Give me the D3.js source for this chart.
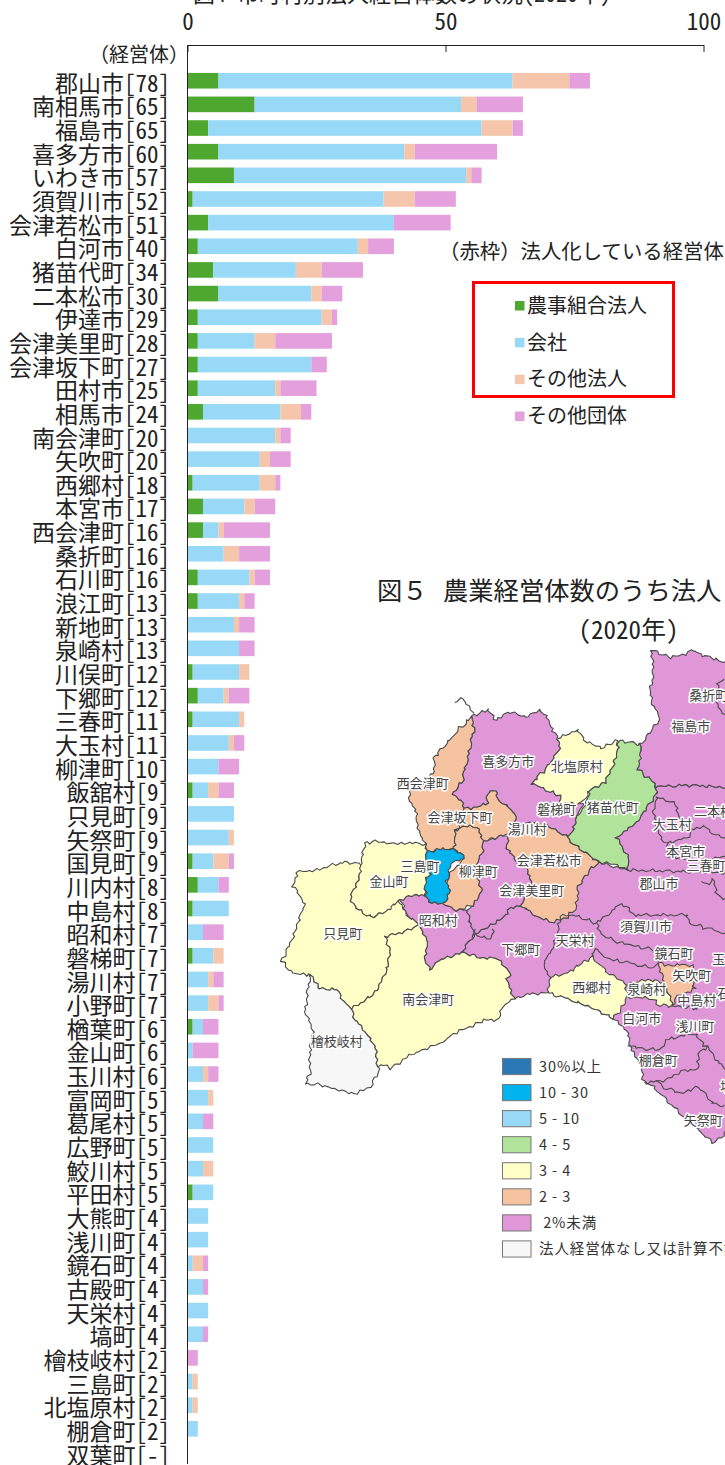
<!DOCTYPE html>
<html lang="ja">
<head>
<meta charset="UTF-8">
<title>法人経営体数</title>
<script src="https://cdn.jsdelivr.net/npm/d3@7"></script>
<style>
html, body { margin: 0; padding: 0; background: #fff; overflow: hidden; }
svg { display: block; }
text { font-family: "Noto Sans CJK JP", sans-serif; }
</style>
</head>
<body>
<script>
// bar chart data
var municipalities = ["郡山市","南相馬市","福島市","喜多方市","いわき市","須賀川市","会津若松市","白河市","猪苗代町","二本松市","伊達市","会津美里町","会津坂下町","田村市","相馬市","南会津町","矢吹町","西郷村","本宮市","西会津町","桑折町","石川町","浪江町","新地町","泉崎村","川俣町","下郷町","三春町","大玉村","柳津町","飯舘村","只見町","矢祭町","国見町","川内村","中島村","昭和村","磐梯町","湯川村","小野町","楢葉町","金山町","玉川村","富岡町","葛尾村","広野町","鮫川村","平田村","大熊町","浅川町","鏡石町","古殿町","天栄村","塙町","檜枝岐村","三島町","北塩原村","棚倉町","双葉町"];
var totals = ["78","65","65","60","57","52","51","40","34","30","29","28","27","25","24","20","20","18","17","16","16","16","13","13","13","12","12","11","11","10","9","9","9","9","8","8","7","7","7","7","6","6","6","5","5","5","5","5","4","4","4","4","4","4","2","2","2","2","-"];
var nojiKumiai = [6,13,4,6,9,1,4,2,5,6,2,2,2,2,3,0,0,1,3,3,0,2,2,0,0,1,2,1,0,0,1,0,0,1,2,1,0,1,0,0,1,0,0,0,0,0,0,1,0,0,0,0,0,0,0,0,0,0,0];
var kaisha     = [57,40,53,36,45,37,36,31,16,18,24,11,22,15,15,17,14,13,8,3,7,10,8,9,10,9,5,9,8,6,3,9,8,4,4,7,3,4,4,4,2,1,3,4,3,5,3,4,4,4,1,3,4,3,0,1,1,2,0];
var sonotaHojin= [11,3,6,2,1,6,0,2,5,2,2,4,0,1,4,1,2,3,2,1,3,1,1,1,0,2,1,1,1,0,2,0,1,3,0,0,0,2,1,2,0,0,1,1,0,0,2,0,0,0,2,0,0,0,0,1,1,0,0];
var sonotaDantai=[4,9,2,16,2,8,11,5,8,4,1,11,3,7,2,2,4,1,4,9,6,3,2,3,3,0,4,0,2,4,3,0,0,1,2,0,4,0,2,1,3,5,2,0,2,0,0,0,0,0,1,1,0,1,2,0,0,0,0];
var seriesNames = ["農事組合法人","会社","その他法人","その他団体"];
var seriesColors = ["#4EA72E","#97D9F7","#F5C6AB","#E3A0DC"];
var xTicks = [0,50,100];

// map classes
var classBreaks = [2,3,4,5,10,30];
var classColors = ["#E097D8","#F6C3A1","#FFFFC8","#B1E39B","#97D9F7","#00B4F0","#2B78B7"];
var classLabels = ["30%以上","10 - 30","5 - 10","4 - 5","3 - 4","2 - 3"," 2%未満","法人経営体なし又は計算不能"];
var legendColors = ["#2B78B7","#00B4F0","#97D9F7","#B1E39B","#FFFFC8","#F6C3A1","#E097D8","#F7F7F7"];

// share of corporate farms per region (null = none), outlines traced at 3x from origin 270,640
var regionRates = {
  base:1.5, nihonmatsu:1.5, fukushima:1.5, kitakata:1.5, misato:1.5, showa:1.5,
  nishiaizu:2.5, bange:2.5, wakamatsu:2.5, yanaizu:2.5, yabuki:2.5,
  mishima:15, kitashiobara:3.5, inawashiro:4.5, kaneyama:3.5, tadami:3.5,
  minamiaizu:3.5, nishigo:3.5, izumizaki:3.5, hinoemata:null
};
var regionOutlines = {
  base:[[915,800],[925,740],[960,690],[985,667],[1072,690],[1420,660],[1420,1470],[1365,1480],[1330,1510],[1240,1430],[1150,1340],[1115,1320],[1120,1295],[1085,1230],[1070,1170],[1030,1135],[960,1100],[890,1075],[835,1058],[780,1062],[735,1075],[710,1025],[720,995],[680,955],[640,955],[580,938],[585,920],[612,888],[650,860],[700,835],[715,810],[752,795],[800,830],[850,845],[895,830]],
  nihonmatsu:[[1160,440],[1250,435],[1420,445],[1420,700],[1072,690],[1075,650],[1040,595],[1060,575],[1100,550],[1125,510],[1158,465]],
  fukushima:[[1145,30],[1170,40],[1195,52],[1220,50],[1250,42],[1270,28],[1290,45],[1310,50],[1350,62],[1420,70],[1420,445],[1250,435],[1160,440],[1155,430],[1105,390],[1108,350],[1112,315],[1140,275],[1170,235],[1150,200],[1140,160],[1150,100]],
  kitakata:[[605,230],[620,222],[650,208],[680,240],[720,215],[770,232],[805,210],[830,225],[845,270],[865,295],[868,330],[850,355],[820,395],[785,430],[830,450],[870,465],[875,490],[940,490],[920,530],[910,570],[890,590],[830,555],[790,550],[735,580],[735,520],[700,490],[680,480],[683,460],[665,450],[650,465],[655,490],[600,505],[580,505],[575,480],[546,465],[575,425],[590,370],[600,320],[612,262]],
  misato:[[640,605],[700,585],[715,590],[712,625],[735,660],[775,690],[785,740],[752,795],[715,810],[700,835],[650,860],[612,888],[590,810],[610,795],[635,755],[625,720],[615,680],[635,640]],
  showa:[[390,780],[420,765],[468,768],[485,790],[520,790],[560,812],[590,810],[612,885],[585,920],[580,938],[500,965],[480,990],[465,965],[470,900],[445,850],[420,835]],
  nishiaizu:[[605,230],[612,262],[600,320],[590,370],[575,425],[546,465],[575,480],[580,505],[572,545],[558,575],[550,628],[520,628],[470,638],[465,612],[445,570],[440,525],[420,480],[418,455],[445,445],[490,400],[495,350],[530,310],[570,265]],
  bange:[[580,505],[600,505],[655,490],[650,465],[665,450],[683,460],[680,480],[700,490],[735,520],[735,580],[700,585],[650,600],[640,605],[620,560],[575,560],[558,575],[572,545]],
  wakamatsu:[[735,580],[760,550],[790,550],[830,555],[890,590],[895,600],[985,667],[960,690],[925,740],[920,800],[895,830],[850,845],[800,830],[752,795],[785,740],[775,690],[735,660],[712,625],[715,590]],
  yanaizu:[[558,575],[575,560],[620,560],[640,605],[635,640],[615,680],[625,720],[635,755],[610,795],[560,812],[520,790],[540,760],[530,730],[540,700],[585,655],[565,635],[550,628]],
  mishima:[[470,635],[520,625],[565,635],[585,655],[545,670],[530,720],[540,760],[520,790],[485,790],[470,770],[462,730],[480,700],[465,660]],
  kitashiobara:[[865,295],[920,270],[950,305],[995,325],[1040,300],[1045,325],[1025,390],[1005,425],[960,450],[935,490],[875,490],[870,465],[830,450],[785,430],[820,395],[850,355],[868,330]],
  inawashiro:[[1045,300],[1112,315],[1105,390],[1155,430],[1158,465],[1125,510],[1100,550],[1060,575],[1040,595],[1075,650],[1072,690],[1040,675],[985,665],[895,600],[890,590],[910,570],[920,530],[945,500],[960,450],[1005,425],[1025,390],[1045,325]],
  kaneyama:[[285,610],[325,603],[360,612],[400,608],[465,612],[470,635],[465,660],[480,700],[462,735],[468,768],[420,765],[390,780],[375,800],[345,815],[305,832],[265,810],[240,775],[265,720],[272,670]],
  tadami:[[80,695],[130,692],[185,675],[235,665],[272,675],[265,720],[240,775],[265,810],[305,832],[345,815],[385,785],[420,835],[445,850],[435,865],[390,880],[345,890],[360,930],[355,975],[330,1035],[310,1065],[245,1105],[215,1080],[205,1050],[150,1045],[120,1005],[70,1000],[35,965],[70,890],[90,830],[105,790],[70,740]],
  minamiaizu:[[345,890],[390,880],[435,865],[445,850],[470,900],[465,965],[480,990],[500,965],[580,938],[640,955],[680,955],[720,995],[710,1025],[735,1075],[690,1105],[692,1140],[640,1140],[590,1165],[545,1185],[510,1210],[450,1235],[410,1250],[365,1285],[340,1275],[320,1280],[320,1235],[290,1180],[255,1140],[245,1105],[310,1065],[330,1035],[355,975],[360,930]],
  hinoemata:[[120,1005],[150,1045],[205,1050],[215,1080],[245,1105],[255,1140],[290,1180],[320,1235],[320,1280],[330,1290],[300,1340],[265,1360],[225,1355],[150,1335],[105,1330],[120,1300],[120,1220],[130,1170],[105,1120],[115,1040]],
  nishigo:[[838,1012],[900,995],[965,950],[1010,995],[1060,1025],[1075,1065],[1052,1110],[1030,1135],[960,1100],[890,1075],[835,1060]],
  izumizaki:[[1075,1030],[1130,1020],[1180,1025],[1195,1065],[1212,1100],[1170,1095],[1140,1075],[1075,1070]],
  yabuki:[[1165,970],[1180,965],[1185,975],[1270,975],[1270,1030],[1275,1045],[1240,1060],[1215,1075],[1210,1100],[1195,1065],[1180,1020]]
};
// borders inside the same colour class
var innerBorders = [
  [[555,185],[580,175],[590,190],[610,222]],
  [[1365,120],[1345,130],[1340,190],[1365,230],[1420,240]],
  [[1160,470],[1215,490],[1222,525],[1265,570],[1255,590],[1190,610],[1170,590],[1150,520],[1160,470]],
  [[1265,570],[1300,558],[1335,585],[1420,610]],
  [[1190,610],[1190,650],[1300,660],[1420,640]],
  [[1296,725],[1310,735],[1330,720],[1340,760],[1365,780],[1420,790]],
  [[915,825],[980,850],[1055,790],[1095,825],[1250,825],[1260,850],[1365,880],[1420,900]],
  [[915,825],[872,828],[860,895],[845,930],[820,970],[838,1012]],
  [[612,870],[618,890],[665,895],[668,870]],
  [[980,850],[990,880],[1040,905],[1150,930],[1165,968]],
  [[965,950],[975,925],[1010,955],[1060,965],[1150,985],[1165,970]],
  [[1212,1098],[1280,1105]],
  [[1075,1215],[1110,1225],[1170,1230],[1190,1200],[1270,1180],[1310,1220],[1285,1240],[1285,1290],[1240,1290],[1190,1320],[1120,1330]],
  [[1310,1220],[1365,1290],[1420,1320]],
  [[1160,1320],[1175,1340],[1235,1360],[1285,1340],[1330,1390],[1365,1400]],
  [[1280,1110],[1330,1060],[1420,1080]]
];
var mapLabelNames = ["喜多方市","北塩原村","西会津町","会津坂下町","磐梯町","猪苗代町","湯川村","大玉村","二本松市","本宮市","三春町","郡山市","福島市","桑折町","三島町","金山町","柳津町","会津若松市","会津美里町","昭和村","須賀川市","只見町","天栄村","下郷町","鏡石町","玉川村","矢吹町","西郷村","泉崎村","中島村","石川町","南会津町","白河市","浅川町","檜枝岐村","棚倉町","塙町","矢祭町"];
var mapLabelAt = [[715,365],[920,380],[458,430],[570,533],[860,508],[1028,502],[772,568],[1207,552],[1350,515],[1247,635],[1308,675],[1167,730],[1262,258],[1316,165],[450,678],[357,725],[625,695],[838,662],[785,750],[505,840],[1128,860],[218,880],[915,902],[752,927],[1212,940],[1385,957],[1265,1007],[965,1042],[1130,1047],[1280,1080],[1400,1060],[475,1078],[1115,1135],[1275,1160],[200,1205],[1165,1262],[1390,1338],[1300,1440]];

var width = 725, height = 1465;
var svg = d3.select("body").append("svg").attr("width", width).attr("height", height);

// ---- map (drawn first, the chart sits over it where they meet)
var rateColor = d3.scaleThreshold().domain(classBreaks).range(classColors);
var mapProjection = d3.geoIdentity().scale(1 / 3).translate([270, 640]);
var mapPath = d3.geoPath(mapProjection);
var regionKeys = Object.keys(regionOutlines);

// the traced outlines are coarse, so give the borders the small wiggle of a real boundary.
// the shift depends only on position, so neighbouring regions still share their edge
function wiggle(p){
    return [p[0] + 3.5 * Math.sin(p[1] * 0.27 + p[0] * 0.08) + 2 * Math.sin(p[1] * 0.61),
            p[1] + 3.5 * Math.sin(p[0] * 0.25 - p[1] * 0.07) + 2 * Math.sin(p[0] * 0.57)];
}
function roughLine(points){
    var out = [];
    points.forEach(function(p, i){
        if (i === 0) { out.push(wiggle(p)); return; }
        var q = points[i - 1];
        var n = Math.max(1, Math.round(Math.hypot(p[0] - q[0], p[1] - q[1]) / 9));
        d3.range(1, n + 1).forEach(function(j){
            out.push(wiggle([q[0] + (p[0] - q[0]) * j / n, q[1] + (p[1] - q[1]) * j / n]));
        });
    });
    return out;
}

svg.append("g").selectAll("path").data(regionKeys).enter().append("path")
    .attr("d", function(k){
        return mapPath({type: "Polygon", coordinates: [roughLine(regionOutlines[k].concat([regionOutlines[k][0]]))]});
    })
    .attr("fill", function(k){ return regionRates[k] === null ? "#F7F7F7" : rateColor(regionRates[k]); })
    .attr("stroke", "#4a4a4a").attr("stroke-width", 1.1).attr("stroke-linejoin", "round");

svg.append("g").selectAll("path").data(innerBorders).enter().append("path")
    .attr("d", function(d){ return mapPath({type: "LineString", coordinates: roughLine(d)}); })
    .attr("fill", "none").attr("stroke", "#4a4a4a").attr("stroke-width", 1.1);

svg.append("g").selectAll("text").data(mapLabelNames).enter().append("text")
    .attr("x", function(d, i){ return mapProjection(mapLabelAt[i])[0]; })
    .attr("y", function(d, i){ return mapProjection(mapLabelAt[i])[1]; })
    .attr("dy", "0.36em").attr("text-anchor", "middle")
    .attr("font-size", 13).attr("fill", "#444")
    .attr("stroke", "#fff").attr("stroke-width", 3).attr("stroke-linejoin", "round")
    .style("paint-order", "stroke")
    .text(function(d){ return d; });

// map legend
var legendY = d3.scaleBand().domain(classLabels).range([1053.5, 1262]).paddingInner(0.38).paddingOuter(0.19);
var mapLegend = svg.append("g").selectAll("g").data(classLabels).enter().append("g")
    .attr("transform", function(d){ return "translate(502.5," + legendY(d) + ")"; });
mapLegend.append("rect").attr("width", 28.5).attr("height", legendY.bandwidth())
    .attr("fill", function(d, i){ return legendColors[i]; })
    .attr("stroke", "#777").attr("stroke-width", 1);
mapLegend.append("text").attr("x", 36.5).attr("y", legendY.bandwidth() / 2).attr("dy", "0.36em")
    .attr("font-size", 14.5).attr("fill", "#333").attr("letter-spacing", 0.9)
    .attr("xml:space", "preserve").style("white-space", "pre")
    .text(function(d){ return d; });

// ---- bars
var x = d3.scaleLinear().domain([0, 100]).range([187.5, 703.5]);
var y = d3.scaleBand().domain(municipalities).range([68.9, 1464.3]).paddingInner(0.34).paddingOuter(0.17);

var table = municipalities.map(function(m, i){
    return {name: m, "農事組合法人": nojiKumiai[i], "会社": kaisha[i], "その他法人": sonotaHojin[i], "その他団体": sonotaDantai[i]};
});
var stacked = d3.stack().keys(seriesNames)(table);

svg.append("g").selectAll("g").data(stacked).enter().append("g")
    .attr("fill", function(d, i){ return seriesColors[i]; })
    .selectAll("rect").data(function(d){ return d; }).enter().append("rect")
    .attr("x", function(d){ return x(d[0]); })
    .attr("y", function(d){ return y(d.data.name); })
    .attr("width", function(d){ return x(d[1]) - x(d[0]); })
    .attr("height", y.bandwidth());

var condensed = "'hwid'";

var xAxis = svg.append("g").attr("transform", "translate(0,45)")
    .call(d3.axisTop(x).tickValues(xTicks).tickSizeOuter(0).tickSizeInner(-7).tickPadding(15));
xAxis.selectAll("path, line").attr("stroke", "#222");
xAxis.selectAll("text").attr("font-size", 23).attr("fill", "#222")
    .style("font-family", '"Noto Sans CJK JP", sans-serif').style("font-feature-settings", condensed);

var yAxis = svg.append("g").attr("transform", "translate(" + x(0) + ",0)")
    .call(d3.axisLeft(y).tickSize(0).tickPadding(17.5).tickFormat(function(d, i){ return d + "[" + totals[i] + "]"; }));
yAxis.select(".domain").remove();
yAxis.selectAll("text").attr("font-size", 23).attr("fill", "#222").attr("dy", "0.48em")
    .style("font-family", '"Noto Sans CJK JP", sans-serif').style("font-feature-settings", condensed);
svg.append("line").attr("x1", x(0)).attr("x2", x(0)).attr("y1", 45).attr("y2", 1464).attr("stroke", "#222");

svg.append("text").attr("x", 189).attr("y", 55).attr("dy", "0.36em").attr("text-anchor", "end")
    .attr("font-size", 20).attr("fill", "#222").text("（経営体）");

// ---- titles
svg.append("text").attr("x", 193).attr("y", 2).attr("font-size", 22).attr("fill", "#222")
    .style("font-feature-settings", condensed).text("図４ 市町村別法人経営体数の状況（2020年）");
var figTitle = svg.append("text").attr("y", 591).attr("dy", "0.36em").attr("font-size", 25.3).attr("fill", "#222");
figTitle.append("tspan").attr("x", 377).text("図５");
figTitle.append("tspan").attr("x", 443).text("農業経営体数のうち法人");
svg.append("text").attr("x", 628.5).attr("y", 630).attr("dy", "0.36em").attr("text-anchor", "middle")
    .attr("font-size", 25).attr("fill", "#222").style("font-feature-settings", condensed).text("（2020年）");

// ---- bar legend
svg.append("text").attr("x", 439).attr("y", 252).attr("dy", "0.36em").attr("font-size", 20.4).attr("fill", "#222")
    .text("（赤枠）法人化している経営体");
svg.append("rect").attr("x", 473.5).attr("y", 282.5).attr("width", 200).attr("height", 114)
    .attr("fill", "none").attr("stroke", "#FF0000").attr("stroke-width", 3);
var seriesLegendY = d3.scalePoint().domain(seriesNames).range([305.5, 416]);
var seriesLegend = svg.append("g").selectAll("g").data(seriesNames).enter().append("g")
    .attr("transform", function(d){ return "translate(515," + seriesLegendY(d) + ")"; });
seriesLegend.append("rect").attr("y", -4.5).attr("width", 9.5).attr("height", 9.5)
    .attr("fill", function(d, i){ return seriesColors[i]; });
seriesLegend.append("text").attr("x", 12).attr("dy", "0.36em").attr("font-size", 20).attr("fill", "#222")
    .text(function(d){ return d; });
</script>
</body>
</html>
